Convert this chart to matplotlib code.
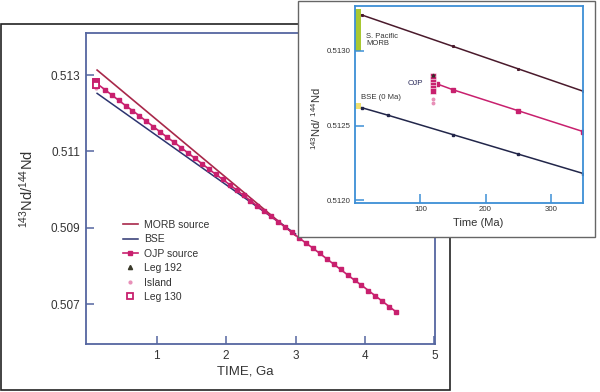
import matplotlib
matplotlib.use('Agg')
import matplotlib.pyplot as plt
from matplotlib.patches import Rectangle

plt.rcParams['font.family'] = ['Liberation Sans', 'DejaVu Sans']
plt.rcParams['mathtext.fontset'] = 'custom'
plt.rcParams['mathtext.rm'] = 'Liberation Sans'
plt.rcParams['mathtext.it'] = 'Liberation Sans:italic'

# ---- main panel data (time in Ga) ----
morb_t = [0.14, 3.0]
morb_nd = [0.51313, 0.50880]
bse_t = [0.14, 3.0]
bse_nd = [0.51252, 0.50884]
ojp_t = [0.12, 0.25, 0.35, 0.45, 0.55, 0.65, 0.75, 0.85, 0.95, 1.05, 1.15,
         1.25, 1.35, 1.45, 1.55, 1.65, 1.75, 1.85, 1.95, 2.05, 2.15, 2.25,
         2.35, 2.45, 2.55, 2.65, 2.75, 2.85, 2.95, 3.05, 3.15, 3.25, 3.35,
         3.45, 3.55, 3.65, 3.75, 3.85, 3.95, 4.05, 4.15, 4.25, 4.35, 4.45]
ojp_nd = [0.51280, 0.51262, 0.51248, 0.51234, 0.51220, 0.51207, 0.51193,
          0.51179, 0.51165, 0.51151, 0.51137, 0.51124, 0.51110, 0.51096,
          0.51082, 0.51068, 0.51054, 0.51040, 0.51027, 0.51013, 0.50999,
          0.50985, 0.50971, 0.50957, 0.50943, 0.50930, 0.50916, 0.50902,
          0.50888, 0.50874, 0.50860, 0.50847, 0.50833, 0.50819, 0.50805,
          0.50791, 0.50777, 0.50763, 0.50750, 0.50736, 0.50722, 0.50708,
          0.50694, 0.50680]

# samples (OJP age ~120 Ma)
leg130_nd = [0.51283, 0.51281, 0.51279, 0.51277, 0.51275, 0.51273]
leg192_nd = [0.51284]
island_nd = [0.51268, 0.51265]

# ---- inset data (time in Ma) ----
in_morb_t = [10, 150, 250, 350]
in_morb_nd = [0.51324, 0.51303, 0.51288, 0.51273]
in_ojp_t = [125, 150, 250, 350]
in_ojp_nd = [0.51278, 0.51274, 0.51260, 0.51246]
in_bse_t = [10, 50, 150, 250, 350]
in_bse_nd = [0.51262, 0.51257, 0.51244, 0.51231, 0.51218]
spac_morb_range = [0.51300, 0.51328]
bse_now_range = [0.51261, 0.51265]

W, H = 600, 392
MORB_C = '#a8284a'
BSE_C = '#2c3470'
OJP_C = '#c8206e'
ISL_C = '#e890b8'


def fx(x):
    return x / W


def fy(y):
    return 1 - y / H


fig = plt.figure(figsize=(6, 3.92), dpi=100)

# paper cards
main_card = Rectangle((fx(1), fy(390)), fx(449), 366 / H, transform=fig.transFigure,
                      facecolor='white', edgecolor='#222222', lw=1.2, zorder=0)
fig.patches.append(main_card)
inset_card = Rectangle((fx(298), fy(237)), fx(297), 236 / H, transform=fig.transFigure,
                       facecolor='white', edgecolor='#666666', lw=1.0, zorder=2)
fig.patches.append(inset_card)

# ---- main axes ----
ax = fig.add_axes([fx(86), fy(344), fx(349), 311 / H], zorder=1)
ax.plot(morb_t, morb_nd, color=MORB_C, lw=1.2, label='MORB source')
ax.plot(bse_t, bse_nd, color=BSE_C, lw=1.1, label='BSE')
ax.plot(ojp_t, ojp_nd, color=OJP_C, lw=1.2, marker='s', ms=3.0, mec=OJP_C,
        mfc=OJP_C, label='OJP source')
ax.plot([0.12] * len(leg192_nd), leg192_nd, ls='none', marker='^', ms=3,
        color='#3a3a2a', label='Leg 192')
ax.plot([0.12] * len(island_nd), island_nd, ls='none', marker='o', ms=2,
        color=ISL_C, label='Island')
ax.plot([0.12] * len(leg130_nd), leg130_nd, ls='none', marker='s', ms=3.8,
        mfc='white', mec=OJP_C, mew=1.3, label='Leg 130')

ax.set_xlim(-0.02, 5.01)
ax.set_ylim(0.50596, 0.5141)
ax.set_xticks([1, 2, 3, 4, 5])
ax.set_xticklabels(['1', '2', '3', '4', '5'])
ax.set_yticks([0.507, 0.509, 0.511, 0.513])
ax.set_yticklabels(['0.507', '0.509', '0.511', '0.513'])
main_spine = '#5566a0'
for s in ax.spines.values():
    s.set_color(main_spine)
    s.set_linewidth(1.3)
ax.tick_params(direction='in', length=6, width=1.1, color=main_spine,
               labelsize=8.5, labelcolor='#333333')
ax.tick_params(axis='x', pad=4)
ax.tick_params(axis='y', pad=4)

leg = ax.legend(loc='upper left', bbox_to_anchor=(fx(123), fy(220)),
                bbox_transform=fig.transFigure, frameon=False, fontsize=7.5,
                borderpad=0, borderaxespad=0, handlelength=1.4,
                handletextpad=0.6, labelspacing=0.42)
for t in leg.get_texts():
    t.set_color('#333333')

fig.text(fx(27), fy(189), r'$^{143}$Nd/$^{144}$Nd', rotation=90, ha='center',
         va='center', fontsize=10.5, color='#333333')
fig.text(fx(245), fy(372), 'TIME, Ga', ha='center', va='center',
         fontsize=9.5, color='#333333')

# ---- inset axes ----
ax2 = fig.add_axes([fx(355.3), fy(202.7), fx(228), 196.7 / H], zorder=3)
ax2.fill_between([0, 9], spac_morb_range[0], spac_morb_range[1],
                 color='#a8c832', lw=0)
ax2.fill_between([0, 9], bse_now_range[0], bse_now_range[1],
                 color='#f0e070', lw=0)
ax2.plot(in_morb_t, in_morb_nd, color='#4a1a2c', lw=1.1, marker='s', ms=1.2)
ax2.plot(in_ojp_t, in_ojp_nd, color=OJP_C, lw=1.1, marker='s', ms=2.6)
ax2.plot(in_bse_t, in_bse_nd, color='#22264a', lw=1.1, marker='s', ms=2.0)
ax2.plot([120] * len(leg130_nd), leg130_nd, ls='none', marker='s', ms=4,
         mfc=OJP_C, mec='white', mew=0.4)
ax2.plot([120] * len(leg192_nd), leg192_nd, ls='none', marker='^', ms=2,
         color='#3a2a2a')
ax2.plot([120] * len(island_nd), island_nd, ls='none', marker='o', ms=1.8,
         color=ISL_C)

ax2.text(17, 0.51312, 'S. Pacific\nMORB', fontsize=5.5, color='#333333',
         ha='left', va='top', linespacing=1.05)
ax2.text(8, 0.512685, 'BSE (0 Ma)', fontsize=5.6, color='#333333',
         ha='left', va='center')
ax2.text(104, 0.512784, 'OJP', fontsize=5.8, color='#2a2a5a',
         ha='right', va='center')

ax2.set_xlim(0, 350)
ax2.set_ylim(0.511985, 0.5133)
ax2.set_xticks([100, 200, 300])
ax2.set_xticklabels(['100', '200', '300'])
ax2.set_yticks([0.5120, 0.5125, 0.5130])
ax2.set_yticklabels(['0.5120', '0.5125', '0.5130'])
in_spine = '#3d8fd6'
for s in ax2.spines.values():
    s.set_color(in_spine)
    s.set_linewidth(1.3)
ax2.tick_params(direction='in', length=6.5, width=1.1, color=in_spine,
                labelsize=5.7, labelcolor='#333333')
ax2.tick_params(axis='x', pad=2.5)
ax2.tick_params(axis='y', pad=3.5)

fig.text(fx(316), fy(119), r'$^{143}$Nd/ $^{144}$Nd', rotation=90,
         ha='center', va='center', fontsize=8, color='#333333', zorder=4)
fig.text(fx(478), fy(223), 'Time (Ma)', ha='center', va='center',
         fontsize=8, color='#333333', zorder=4)

fig.savefig('out.png', dpi=100)
